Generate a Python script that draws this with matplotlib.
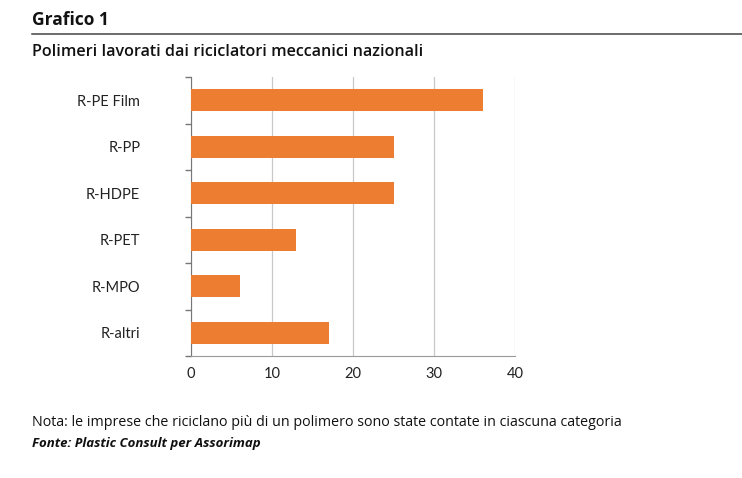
import numpy as np
import matplotlib.pyplot as plt
from matplotlib.lines import Line2D

categories = ['R-PE Film', 'R-PP', 'R-HDPE', 'R-PET', 'R-MPO', 'R-altri']
values = [36, 25, 25, 13, 6, 17]
xticks = [0, 10, 20, 30, 40]

fig = plt.figure(figsize=(7.42, 4.78), dpi=100)

# axes box in pixels: x 191..515, y 77..356
W, H = 742, 478
ax = fig.add_axes([191 / W, 1 - 356 / H, (515 - 191) / W, (356 - 77) / H])

y = np.arange(len(categories))
ax.barh(y, values, height=0.48, color='#ED7D31', zorder=3)
ax.set_ylim(len(categories) - 0.5, -0.5)
ax.set_xlim(0, 40)

ax.set_xticks(xticks)
ax.set_xticklabels([str(t) for t in xticks], fontsize=10.5, family='Lato', color='#222222')
ax.set_yticks(y)
ax.set_yticklabels(categories, fontsize=10.5, family='Lato', color='#222222')
ax.tick_params(axis='y', length=0, pad=36.5)
ax.tick_params(axis='x', length=0, pad=8)

# boundary ticks on the category axis
ax.set_yticks(np.arange(-0.5, len(categories)), minor=True)
ax.tick_params(axis='y', which='minor', length=4, color='#777777', width=1)

ax.grid(axis='x', color='#c8c8c8', linewidth=0.9, zorder=0)
for s in ['top', 'right']:
    ax.spines[s].set_visible(False)
ax.spines['left'].set_color('#777777')
ax.spines['bottom'].set_color('#999999')

# header
fig.text(32 / W, 1 - 20 / H, 'Grafico 1', fontsize=12.5, fontweight='bold',
         family='Open Sans', va='center', ha='left', color='#111111')
fig.add_artist(Line2D([32 / W, 1], [1 - 33.5 / H, 1 - 33.5 / H], color='#444444', linewidth=1.1))
fig.text(32 / W, 1 - 52 / H, 'Polimeri lavorati dai riciclatori meccanici nazionali',
         fontsize=11.6, fontweight='semibold', family='Open Sans', va='center', ha='left',
         color='#111111')

# footer
fig.text(32 / W, 1 - 423 / H,
         'Nota: le imprese che riciclano più di un polimero sono state contate in ciascuna categoria',
         fontsize=10.25, family='Open Sans', va='center', ha='left', color='#111111')
fig.text(32 / W, 1 - 443 / H, 'Fonte: Plastic Consult per Assorimap',
         fontsize=9.5, fontweight='bold', style='italic', family='Open Sans',
         va='center', ha='left', color='#111111')

fig.savefig('out.png', dpi=100)
